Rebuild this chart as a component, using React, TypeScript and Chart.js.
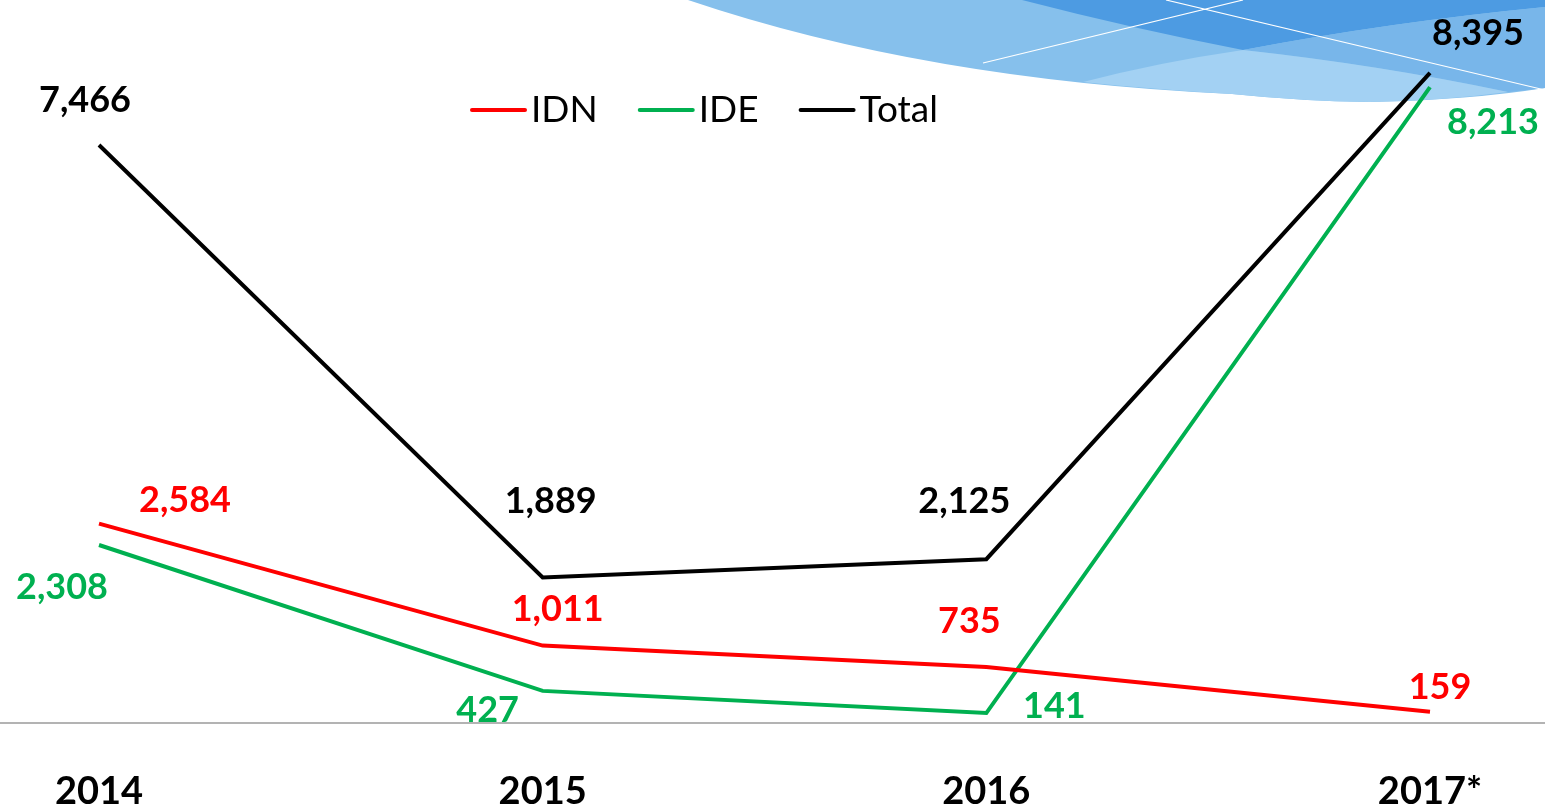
import React, { useEffect, useRef } from "react";
import { Chart, registerables } from "chart.js";

Chart.register(...registerables);

const categories = ["2014", "2015", "2016", "2017*"];
const idnValues = [2584, 1011, 735, 159];
const ideValues = [2308, 427, 141, 8213];
const totalValues = [7466, 1889, 2125, 8395];
const seriesNames = ["IDN", "IDE", "Total"];

const RED = "#ff0000";
const GREEN = "#00b050";
const BLACK = "#000000";
const FONT = "Lato, 'Open Sans', sans-serif";

const fmt = (v: number) => v.toLocaleString("en-US");

const swooshPlugin = {
  id: "swoosh",
  beforeDraw(chart: any) {
    const ctx = chart.ctx as CanvasRenderingContext2D;
    ctx.save();
    ctx.beginPath();
    ctx.moveTo(688, 0);
    ctx.quadraticCurveTo(925, 80, 1232, 94);
    ctx.quadraticCurveTo(1300, 101, 1370, 102);
    ctx.quadraticCurveTo(1470, 100, 1545, 88);
    ctx.lineTo(1545, 0);
    ctx.closePath();
    ctx.fillStyle = "#86c0ec";
    ctx.fill();
    ctx.beginPath();
    ctx.moveTo(1022, 0);
    ctx.quadraticCurveTo(1130, 28, 1243, 50);
    ctx.quadraticCurveTo(1390, 22, 1545, 7);
    ctx.lineTo(1545, 0);
    ctx.closePath();
    ctx.fillStyle = "#4d9be2";
    ctx.fill();
    ctx.beginPath();
    ctx.moveTo(1243, 50);
    ctx.quadraticCurveTo(1390, 22, 1545, 7);
    ctx.lineTo(1545, 88);
    ctx.lineTo(1508, 92);
    ctx.quadraticCurveTo(1380, 65, 1243, 50);
    ctx.closePath();
    ctx.fillStyle = "#78b6ea";
    ctx.fill();
    ctx.beginPath();
    ctx.moveTo(1083, 82);
    ctx.quadraticCurveTo(1160, 62, 1243, 50);
    ctx.quadraticCurveTo(1380, 65, 1508, 92);
    ctx.quadraticCurveTo(1440, 101, 1370, 102);
    ctx.quadraticCurveTo(1300, 101, 1232, 94);
    ctx.quadraticCurveTo(1150, 89, 1083, 82);
    ctx.closePath();
    ctx.fillStyle = "#a3d1f3";
    ctx.fill();
    ctx.strokeStyle = "#ffffff";
    ctx.lineWidth = 1.2;
    ctx.beginPath();
    ctx.moveTo(983, 63);
    ctx.lineTo(1243, 0);
    ctx.moveTo(1166, 0);
    ctx.lineTo(1545, 90);
    ctx.stroke();
    ctx.restore();
  },
};

const axisLinePlugin = {
  id: "axisLine",
  beforeDatasetsDraw(chart: any) {
    const ctx = chart.ctx as CanvasRenderingContext2D;
    const y = chart.scales.y.getPixelForValue(0);
    ctx.save();
    ctx.strokeStyle = "#b3b3b3";
    ctx.lineWidth = 2;
    ctx.beginPath();
    ctx.moveTo(0, y - 1);
    ctx.lineTo(chart.width, y - 1);
    ctx.stroke();
    ctx.restore();
  },
};

const legendPlugin = {
  id: "customLegend",
  afterDraw(chart: any) {
    const ctx = chart.ctx as CanvasRenderingContext2D;
    ctx.save();
    ctx.font = `37px ${FONT}`;
    ctx.textBaseline = "middle";
    ctx.textAlign = "left";
    let x = 472;
    const y = 110;
    chart.data.datasets.forEach((ds: any) => {
      ctx.strokeStyle = ds.borderColor;
      ctx.lineWidth = 4;
      ctx.lineCap = "round";
      ctx.beginPath();
      ctx.moveTo(x, y);
      ctx.lineTo(x + 53, y);
      ctx.stroke();
      ctx.fillStyle = "#000";
      ctx.fillText(ds.label, x + 59, y);
      x += 59 + ctx.measureText(ds.label).width + 42;
    });
    ctx.restore();
  },
};

const dataLabelPlugin = {
  id: "pointLabels",
  afterDatasetsDraw(chart: any) {
    const ctx = chart.ctx as CanvasRenderingContext2D;
    ctx.save();
    ctx.font = `bold 36px ${FONT}`;
    ctx.textAlign = "center";
    ctx.textBaseline = "middle";
    chart.data.datasets.forEach((ds: any, di: number) => {
      const meta = chart.getDatasetMeta(di);
      ctx.fillStyle = ds.borderColor;
      meta.data.forEach((pt: any, i: number) => {
        const off = ds.labelOffsets[i];
        ctx.fillText(fmt(ds.data[i]), pt.x + off[0], pt.y + off[1]);
      });
    });
    ctx.restore();
  },
};

export default function App() {
  const ref = useRef<HTMLCanvasElement | null>(null);

  useEffect(() => {
    if (!ref.current) return;
    const chart = new Chart(ref.current, {
      type: "line",
      data: {
        labels: categories,
        datasets: [
          {
            label: seriesNames[0],
            data: idnValues,
            borderColor: RED,
            backgroundColor: RED,
            borderWidth: 4,
            pointRadius: 0,
            tension: 0,
            labelOffsets: [[86, -23], [15, -36], [-17, -46], [10, -24]],
          } as any,
          {
            label: seriesNames[1],
            data: ideValues,
            borderColor: GREEN,
            backgroundColor: GREEN,
            borderWidth: 4,
            pointRadius: 0,
            tension: 0,
            labelOffsets: [[-37, 42], [-55, 20], [68, -7], [63, 35]],
          } as any,
          {
            label: seriesNames[2],
            data: totalValues,
            borderColor: BLACK,
            backgroundColor: BLACK,
            borderWidth: 4,
            pointRadius: 0,
            tension: 0,
            labelOffsets: [[-14, -45], [8, -76], [-22, -58], [48, -40]],
          } as any,
        ],
      },
      options: {
        animation: false,
        responsive: false,
        layout: { padding: { left: 99, right: 115, top: 26, bottom: 0 } },
        plugins: {
          legend: { display: false },
          tooltip: { enabled: false },
        },
        scales: {
          x: {
            grid: { display: false, drawTicks: false },
            border: { display: false },
            afterFit: (scale: any) => {
              scale.height = 87;
            },
            ticks: {
              padding: 49,
              color: "#000",
              maxRotation: 0,
              autoSkip: false,
              font: { family: FONT, size: 38, weight: "bold", lineHeight: 1 },
            },
          },
          y: {
            display: false,
            min: 0,
            max: 9000,
          },
        },
      },
      plugins: [swooshPlugin, axisLinePlugin, legendPlugin, dataLabelPlugin],
    });
    return () => chart.destroy();
  }, []);

  return (
    <div style={{ position: "absolute", left: 0, top: 0, width: 1545, height: 811, background: "#fff" }}>
      <canvas ref={ref} width={1545} height={811} style={{ width: 1545, height: 811, display: "block" }} />
    </div>
  );
}
